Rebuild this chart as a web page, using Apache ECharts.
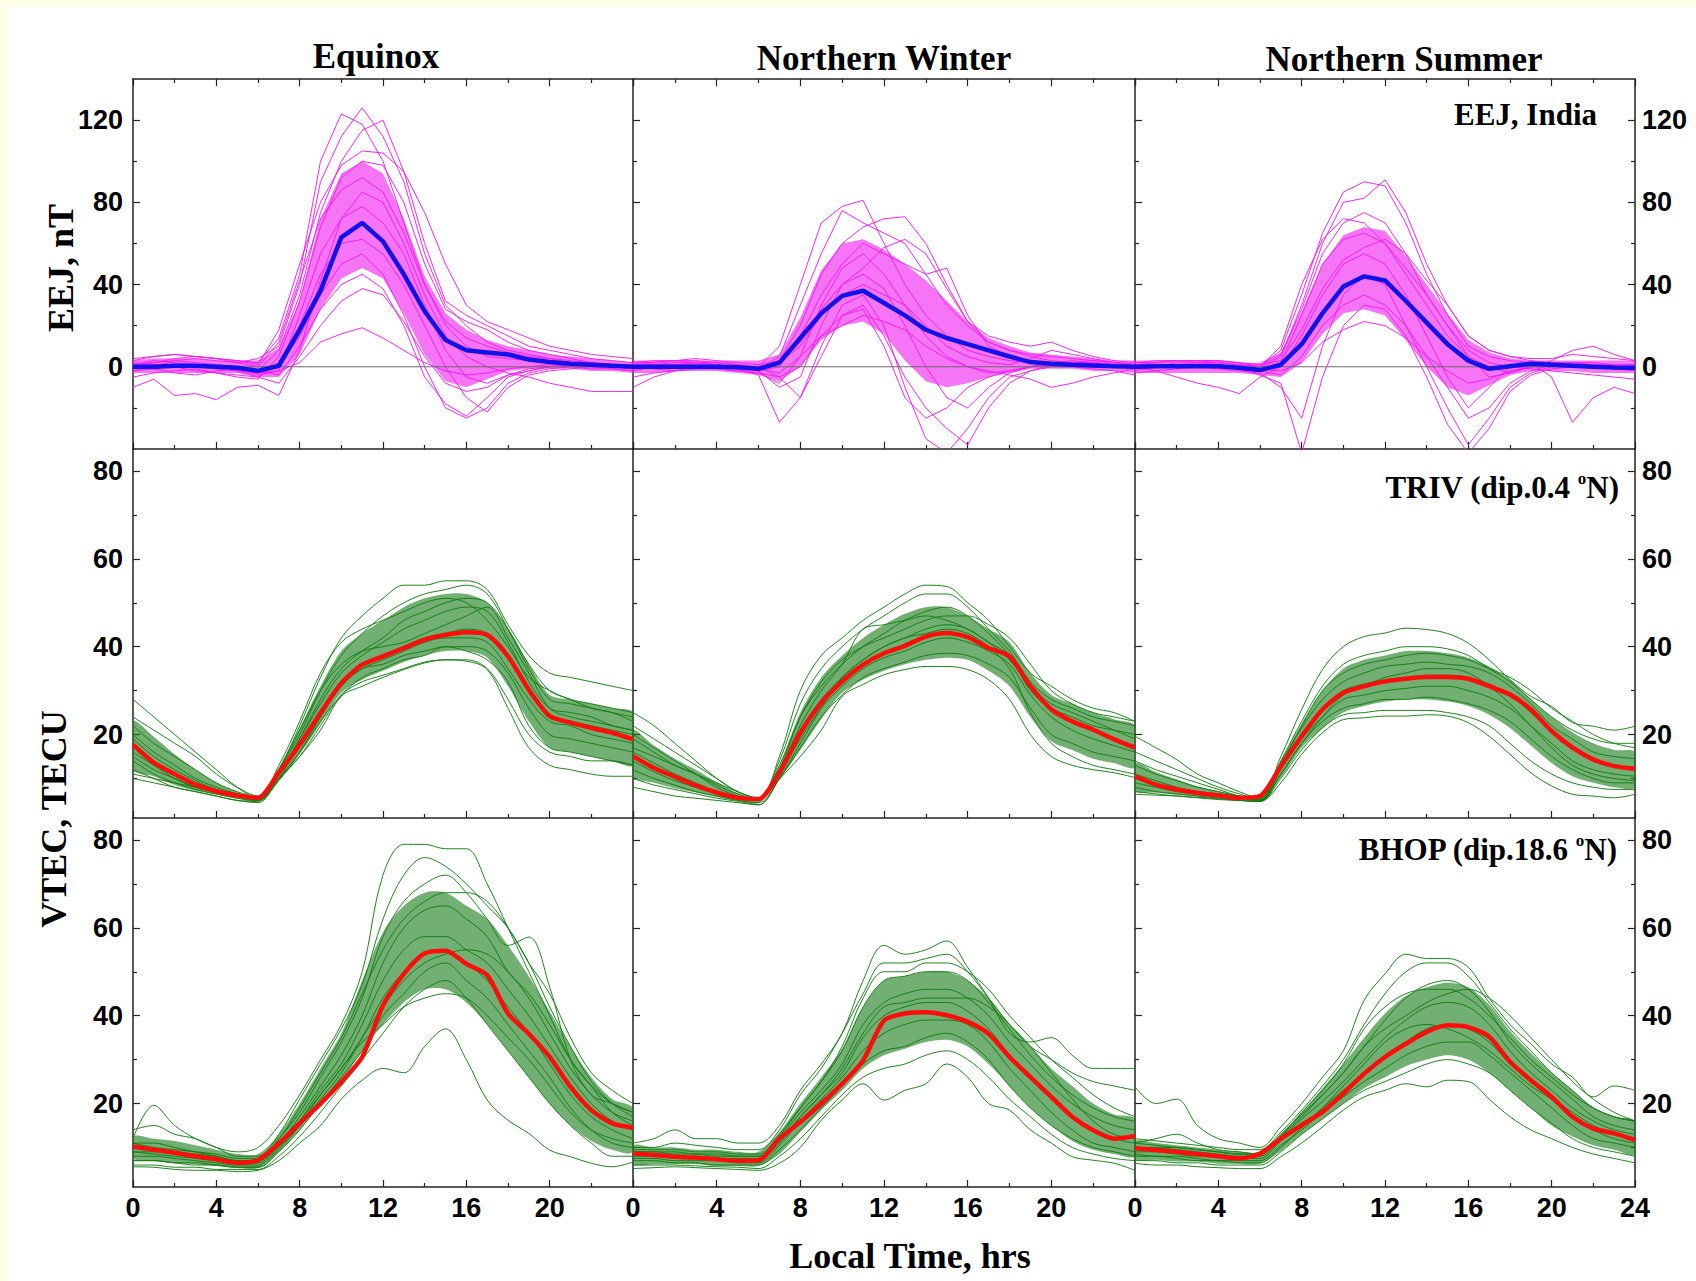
<!DOCTYPE html>
<html>
<head>
<meta charset="utf-8">
<title>EEJ and VTEC diurnal variation</title>
<script src="https://cdn.jsdelivr.net/npm/echarts@6/dist/echarts.min.js"></script>
<style>
  html, body { margin: 0; padding: 0; background: #ffffff; }
  #chart { position: absolute; left: 0; top: 0; width: 1696px; height: 1281px; }
  .edge-top { position: absolute; left: 0; top: 0; width: 1696px; height: 7px; background: #fefee8; }
  .edge-left { position: absolute; left: 0; top: 0; width: 8px; height: 1281px; background: #fefee8; }
</style>
</head>
<body>
<div id="chart"></div>
<div class="edge-top"></div>
<div class="edge-left"></div>
<script>
// ---- Hours of local time (x values shared by every curve) ----
const HOURS = [0,1,2,3,4,5,6,7,8,9,10,11,12,13,14,15,16,17,18,19,20,21,22,23,24];
const SEASONS = ['Equinox', 'Northern Winter', 'Northern Summer'];
const X_LABELS = [0,4,8,12,16,20];
const X_LABELS_LAST = [0,4,8,12,16,20,24];
const EEJ_TICKS = [0,40,80,120];
const EEJ_MINOR = [-20,20,60,100];
const TEC_TICKS = [20,40,60,80];
const TEC_MINOR = [10,30,50,70];

// ---- EEJ, India (nT) : Equinox ----
const EEJ_EQX_MEAN = [0,0,0.5,0.5,0,-0.5,-2,0.5,18,37,63,70,61,45,27,13,8,7,6,3.5,2.3,1.5,1,0.5,0];
const EEJ_EQX_HI = [3,4,4,4,3,3,3,9,32,72,94,100,94,72,44,26,18,13,10,8,6,5,4,3,2];
const EEJ_EQX_LO = [-3,-3,-3,-3,-3,-3,-5,-5,6,28,43,48,43,26,6,-7,-10,-6,-2,-1,-1,-1,-2,-2,-3];
const EEJ_EQX_DAYS = [
  [0,2,4,5,4,3,2,14,45,100,123,118,100,70,40,22,14,10,7,5,4,3,2,1,0],
  [-2,0,3,4,3,2,4,10,40,90,112,126,112,90,55,30,20,12,8,6,4,2,1,0,-1],
  [1,2,3,2,1,0,-2,8,35,75,100,115,120,95,60,32,25,20,15,10,8,6,4,3,2],
  [-5,-3,-2,-1,-3,-5,-6,5,32,68,92,100,98,80,50,28,22,18,12,8,6,4,2,1,0],
  [3,5,6,5,4,2,0,12,42,72,86,92,85,65,40,20,10,5,4,3,2,1,0,-1,-2],
  [-10,-6,-14,-13,-16,-10,-9,-14,8,42,72,85,80,60,35,15,5,0,-3,-5,-8,-10,-12,-12,-12],
  [0,-1,-3,-4,-2,-1,-4,-2,25,55,72,78,70,55,30,8,-5,-8,-4,-2,0,1,2,1,0],
  [2,1,0,-2,-3,-4,-5,2,20,45,60,62,55,40,20,0,-15,-22,-10,-4,-2,-1,0,0,0],
  [1,3,2,1,0,-1,-3,0,15,35,50,55,45,25,0,-20,-25,-20,-8,-3,-1,0,1,1,1],
  [-2,-1,0,1,0,-1,-2,-4,10,28,40,45,38,20,-5,-18,-24,-15,-5,-2,0,0,-1,-1,-2],
  [0,1,1,0,0,-2,-5,-8,5,20,32,38,35,22,5,-8,-12,-10,-4,-1,0,1,1,0,0],
  [1,0,0,0,-1,-2,-3,-2,2,12,16,19,14,8,2,-2,-4,-3,-1,0,1,1,0,0,0],
  [4,5,6,5,4,3,1,18,50,80,98,105,104,95,75,50,30,22,18,14,10,8,6,5,4]
];

// ---- EEJ : Northern Winter ----
const EEJ_WIN_MEAN = [0,0,0,0,0,-0.2,-1,2,14,26,34.5,37,31,25,18,14,11,8,5,2.3,1.5,1,0.6,0.2,0];
const EEJ_WIN_HI = [3,3,3,3,3,3,3,6,24,47,60,62,57,50,42,32,22,14,10,7,6,5,4,3,3];
const EEJ_WIN_LO = [-3,-3,-2,-2,-2,-3,-4,-7,0,13,20,22,16,3,-7,-10,-8,-5,-3,-1,-1,-1,-2,-2,-3];
const EEJ_WIN_DAYS = [
  [0,1,2,2,1,0,0,10,40,70,78,81,60,40,25,15,8,5,3,2,2,1,1,0,0],
  [-2,0,1,2,2,1,-1,5,30,55,76,70,65,60,45,30,20,12,8,5,3,2,1,0,0],
  [1,2,3,4,3,2,1,3,20,45,60,68,72,73,60,40,22,12,8,6,5,4,3,2,1],
  [0,0,1,1,0,-1,-2,0,15,35,50,60,55,50,45,48,25,10,5,3,2,1,0,0,0],
  [-5,-3,-2,-1,-1,-2,-3,-8,5,30,48,55,45,30,15,5,0,-3,-2,0,1,2,2,1,0],
  [2,3,3,2,1,0,-2,-10,-5,20,40,45,38,20,0,-15,-20,-10,-3,0,2,3,2,1,1],
  [-10,-5,-2,0,0,-1,-4,-27,-15,10,30,35,20,-10,-35,-42,-30,-15,-5,-2,0,0,-1,-2,-4],
  [0,1,1,0,-1,-2,-3,-5,0,15,25,28,10,-15,-25,-20,-10,-5,-2,0,1,1,0,0,0],
  [1,1,0,0,0,-1,-1,2,10,25,35,40,35,30,20,10,5,2,1,4,8,6,4,2,1],
  [0,-1,-2,-1,0,0,-1,-3,5,15,20,25,22,18,10,4,0,-2,-4,-6,-10,-8,-5,-3,-1],
  [-1,0,1,1,1,0,0,2,12,28,40,48,58,62,55,38,22,15,12,10,12,8,5,3,2],
  [2,2,3,3,2,1,0,-5,-15,5,25,30,15,-5,-20,-30,-38,-20,-8,-2,1,2,3,2,1]
];

// ---- EEJ : Northern Summer ----
const EEJ_SUM_MEAN = [0,0.2,0.3,0.3,0.3,-0.5,-1.6,1,11,26,39,44,42,32,21.5,11,3,-1,0.3,1.5,1,0.5,0,-0.3,-0.5];
const EEJ_SUM_HI = [3,3,3,3,3,2,2,7,27,50,64,68,66,54,40,26,13,7,4,3,3,3,3,3,3];
const EEJ_SUM_LO = [-3,-3,-3,-3,-3,-3,-4,-5,2,16,26,28,25,13,0,-10,-14,-9,-4,-2,-2,-2,-3,-3,-3];
const EEJ_SUM_DAYS = [
  [1,2,3,3,2,1,0,8,35,65,85,90,88,70,45,25,10,5,3,2,2,1,1,0,0],
  [0,1,1,1,0,0,-1,5,30,60,80,82,91,75,50,30,15,8,5,3,2,2,1,1,1],
  [-2,0,2,3,3,2,0,10,40,62,72,70,60,45,30,15,5,0,-3,0,3,8,10,6,3],
  [2,3,3,2,1,0,-2,2,25,50,62,65,60,48,35,20,5,-5,-3,0,1,1,0,-1,-1],
  [0,-2,-5,-8,-10,-13,-5,0,15,35,50,55,50,35,15,-5,-20,-10,0,2,-5,-27,-15,-10,-13],
  [1,1,0,0,-1,-2,-3,-10,-25,10,35,45,40,20,0,-20,-38,-25,-10,-3,0,1,1,0,0],
  [-3,-2,-1,0,0,-1,-4,-8,-42,-5,20,30,28,15,-5,-28,-42,-30,-12,-4,-1,0,0,-1,-2],
  [1,1,1,1,1,0,-2,-4,5,20,30,35,30,20,5,-10,-25,-20,-8,-2,1,2,2,1,1],
  [0,0,0,1,0,-1,-1,-2,2,12,18,22,20,14,5,-2,-8,-6,-2,0,0,0,0,0,0],
  [2,2,3,3,3,2,1,3,18,38,52,58,62,55,42,30,15,8,5,4,4,6,5,4,3],
  [-1,0,1,2,2,1,0,6,28,55,70,75,70,55,35,20,8,2,0,-1,-2,-3,-4,-5,-6]
];

// ---- VTEC at TRIV (TECU) ----
const TRIV_EQX_MEAN = [17.7,13.6,11,8.6,7.1,6.1,5.6,11.3,17.7,24.9,31.7,35.9,37.8,39.7,41.6,42.7,43.3,42.7,37.8,30.2,24.2,22.7,21.5,20.4,18.9];
const TRIV_EQX_HI = [23,19.5,15.5,12,9,7,5.8,12.5,21.5,31,39,43,46,49,51,52,52,50,44,36,29,28,27,26,25];
const TRIV_EQX_LO = [12,10.5,8.5,7.2,6.3,5.4,4.8,10,15.5,22.5,29.5,32.5,34.5,36.5,38,39,39,37.5,31,23,17,16,15,14,13];
const TRIV_EQX_DAYS = [
  [28,24,20,16,12,8,5.5,12,22,33,42,47,51,54,54,55,55,53,45,38,34,33,32,31,30],
  [24,21,18,15,11,8,6,12,20,30,38,43,47,50,52,53,54,52,44,35,28,27,26,25,24],
  [20,16,13,10,8,6.5,5.5,11,19,27,34,38,41,44,46,48,49,48,41,32,26,25,24,22,21],
  [18,14,11,9,7.5,6,5.2,10,18,25,32,36,38,40,42,43,44,43,38,30,24,23,22,21,20],
  [16,13,10,8,7,6,5.3,11,17,24,31,35,37,39,41,42,42,41,35,28,23,22,20,19,18],
  [14,11,9,7.5,6.5,5.5,5,10,16,23,29,33,35,37,38,40,40,39,34,26,20,19,18,17,16],
  [12,10,8,7,6,5,4.5,9.8,15,22,29,32,33.5,35,36.5,37,37,35,28,20,16,15,14,14,13],
  [10,9,8,7,6,5,4.8,10,15,21,28.7,31,33,34.8,36.3,37,36.7,34.8,26,17,13,12,11,10.5,10.5],
  [22,18,15,12,9,7,5.8,13,23,34,41,44,46,48,50,51,50,46,40,33,30,28,27,26,25],
  [15,12,10,8,7,6,5.5,12,21,30,36,39,40,41,43,45,47,49,42,34,26,24,23,22,21],
  [19,15,12,9.5,7.5,6.5,5.2,11,19,28,35,39,42,46,48,50,51,50,44,36,30,28,26,25,23],
  [11,10,9,8,7,6,5,9.5,16,24,31,35,36,38,39,40,39,37,32,22,17,16,15,14,13]
];
const TRIV_WIN_MEAN = [15.1,12.4,10.4,8.4,6.8,5.6,5.3,11.3,20.4,27.2,32.1,35.9,38.5,40.2,42.3,43.1,42.2,39.7,37.8,31,25.7,23,21.1,18.9,17];
const TRIV_WIN_HI = [21,17.5,14.5,12,9.2,6.7,5.6,13,25,33,38,42,45,47.5,49,49,47,44,41,34,29,27,25,23.5,22];
const TRIV_WIN_LO = [10.5,9,7.8,6.8,5.8,4.9,4.4,9.8,16.5,23.5,29.5,32.5,34.5,36,37,37.5,37,34.5,31,24,18.5,16.5,14.5,13.5,12.5];
const TRIV_WIN_DAYS = [
  [25,22,18,14,10,7,5.5,15,30,38,42,46,49,52,54,53.7,50,46,40,34,31,28,26,25,23],
  [22,19,16,13,10,7,5.5,14,27,35,40,44,47,50,52,52,49,44,39,32,28,26,24,23,22],
  [19,16,13,11,8.5,6.5,5.2,12,24,31,36,40,43,46,48,49,47,43,38,30,26,24,22,21,20],
  [16,13.5,11,9,7,5.8,5.2,11.5,21,28,33,37,40,42,44,45,44,41,38,31,26,23,21,19,17],
  [14,11.5,9.5,8,6.5,5.5,5,11,19,26,31,35,37.5,39,41,42,41,39,36,29,24,21,19,17.5,16],
  [12,10,8.5,7,6,5,4.5,10,17,24,29,33,35,36.5,38,38.5,38,36,33,26,20,18,16,15,14],
  [10,8.5,7.5,6.5,5.5,4.8,4,9.8,15,21,28.7,31.4,33.6,34.8,35.5,35.5,34.8,32.5,28,20,15,13,12,11.3,10.2],
  [20,17,14,11,8,6,5,13,24,32,37,40,42,44,46,47,47,45,42,36,30,27,25,24,23],
  [8,7,6,5.5,5,4.5,4,10,18,26,33,37,40,42,43,44,43,40,35,25,18,15,13,12,11],
  [17,15,13,11,9,7,5.5,12,22,30,36,44,45,46,47,46,44,41,37,31,27,25,23,21,19]
];
const TRIV_SUM_MEAN = [10.5,8.6,7.5,6.7,6.1,5.6,6,12.8,19.6,25.7,29.5,31,32.1,32.7,33.1,33.1,32.7,31,29.1,25.7,20.8,17,14.3,12.8,12.2];
const TRIV_SUM_HI = [13.5,11.5,9.8,8.2,7.1,6.1,5.4,14,22.5,30,35,37,38,39,39,38.5,37.5,35.5,32.5,28,24,20.5,18,16.5,16];
const TRIV_SUM_LO = [7.2,6.8,6.3,5.9,5.5,5.1,4.8,10.2,17,21.5,25,26.5,27.5,28,28,27.5,26.5,24.5,21.5,17.5,13.5,10.5,9,8,8];
const TRIV_SUM_DAYS = [
  [19.6,17,14.3,11,9,7,5.5,15,25.7,34.8,40,42.3,43.1,44.2,43.9,43,40.8,37,32.5,28.7,26.4,22.7,21.9,21,21.9],
  [16,14,12,10,8,6.5,5.3,14,23,31,36,38,39,40,40,39.5,38,35,32,28,24,21,19,18,18],
  [13,11,9.5,8,7,6,5.2,13.5,21.5,28,32,34,35.5,36,36.5,36,35.5,34,31,27,22,19,16,15,14.5],
  [11,9.5,8,7,6.5,5.8,5,12.5,20,26,30,31.5,32.5,33,33.5,33.5,33,31.5,29,25,21,17,14.5,13,12.5],
  [9,8,7,6.5,6,5.5,4.9,12,19,24,28,29,30,30.5,31,31,30,28.5,26,22,18,14,12,11,10.5],
  [8,7,6.5,6,5.5,5,4.8,11,18,23,26,27,28,28,28.5,28,27,25.5,23,19,15,12,10,9,9],
  [7,6.5,6,5.7,5.4,5,4.8,10,16.5,21.5,24.5,25,25.5,25.5,25.5,25,24,22,18,14,11,9,8,7.5,7.5],
  [6.4,6.2,6,5.6,5.2,5,4.8,9,15.5,20.4,23.4,23.8,24.2,24.2,24.5,24.2,22.7,19.6,15.5,11.3,8.3,6.4,6,5.6,6.4],
  [14,12,10.5,9,7.5,6,5.2,13,22,30,34,36,37,38,38.5,38,37,35,33,30,26,23,20,18,17],
  [10,8.5,7.5,7,6.5,6,5,11,18,24,29,31,33,34,35,35,34,31,27,22,17,13,11,10,9.5]
];

// ---- VTEC at BHOP (TECU) ----
const BHOP_EQX_MEAN = [10.2,9.5,8.8,8,7.3,6.5,7.1,10.9,15.5,20,24.9,30.6,42.3,49.5,54.2,54.8,51.8,49.2,40.5,35.9,30.6,23.8,18.5,15.5,14.5];
const BHOP_EQX_HI = [12.5,12,11.5,10.5,9.5,8.5,8.5,13,20,28,36,48,59,65,68,68,65,62,56,49,41,33,26,21,19];
const BHOP_EQX_LO = [7.5,7,6.5,6.2,5.8,5.3,5.3,9,14,20,25,32,38,43,46,46,43,38,32,26,20,15,11.5,9.5,9];
const BHOP_EQX_DAYS = [
  [14,15,13,12,10,9,10,15,22,30,38,50,72,79,79,78,78,70,60,50,40,30,24,20,18],
  [12,19.6,15,12,10,8,8,13,21,29,37,47,62,72,76,74,70,65,60,52,45,35,27,23,20],
  [11,11,10,9,8,7,7,12,18,26,34,44,58,66,70,72,68,62,56,57.9,46.5,30,22,20,18],
  [10,9.5,9,8.5,8,7,7,11,17,24,31,40,52,60,64,65,62,58,50,45,38,30,24,18,15],
  [9,8.5,8,7.5,7,6.5,6.5,10.5,16,23,29,38,48,55,58,58,55,52,46,40,33,26,20,16,14],
  [8,8,7.5,7,6.5,6,6,10,15,21,27,35,44,50,54,55,52,48,42,36,29,22,17,14,12],
  [7,7,6.5,6.5,6,5.5,5.5,9,14,20,26,32,40,45,50,52,48,44,38,32,26,19,14,11,10],
  [6,6,5.5,5.5,5,5,5,8,12.5,18,24,30,36,42,46,48,44,38,32,26,20,15,11,8,8],
  [5.6,5.5,5,4.8,4.8,4.5,4.8,7,11,15,21,25.3,28,27,33,37,30,20.8,16.2,13.2,9.4,7.9,6.4,5.6,6.7],
  [9,9,8.5,8,7.5,7,7,10.5,16,22,28,35,42,48,52,54,55,54,50,44,36,28,22,18,16],
  [11,10,9.5,9,8.5,7.5,7.5,12,19,27,35,45,55,62,66,68,68,66,60,52,42,33,25,20,17],
  [7,7,6.5,6,6,5.5,5.5,9.5,15,22,28,34,38,42,44,45,44,40,35,30,24,18,14,12,11]
];
const BHOP_WIN_MEAN = [8.6,8.3,7.9,7.7,7.3,7,7.1,12,15.8,20,24.5,29.8,38.9,40.5,40.8,40.1,38.6,35.9,30.6,26,21.5,17,13.9,12,12.6];
const BHOP_WIN_HI = [10.5,10,10,9.5,9.5,9,9,13.5,20,26,32.5,42,48,49,50,50,48,44,38,33,28,24,20,17.5,16.5];
const BHOP_WIN_LO = [6.2,6.2,6.2,6.2,5.8,5.8,5.8,8.5,13.5,18.5,23,28,31,32.5,34,34.5,33,29,24,19,15,11.5,9.5,8.5,8];
const BHOP_WIN_DAYS = [
  [11,12,14,12,12,11,11,15,23,29,36,48,56,54,55,57,51,44,36,34,35,31,28,28,28],
  [10,10,11,10.5,10,9.5,9.5,14,22,28,36,45,52,52,53,54,50,44,38,33,30,27,25,24,23],
  [9.5,9.5,9.5,9,9,8.5,8.5,13,19,25,32,42,48,49,50,50,48,43,37,31,26,22,19,17,16],
  [9,9,8.5,8.5,8,8,8,12,18,23,29,38,43,45,46,46,44,40,34,29,24,20,17,15,14],
  [8,8,8,7.5,7.5,7,7,11.5,17,22,27,35,40,42,43,43,41,37,31,26,21,17,14,12,11],
  [7.5,7.5,7,7,7,6.5,6.5,10.5,16,21,26,32,36,38,39,39,38,34,28,23,18,14,11,10,9],
  [7,7,6.5,6.5,6,6,6,9.5,14,19,24,29,32,33,35,36,34,30,24,19,15,12,10,9,8],
  [6,6,6,5.8,5.6,5.5,5.2,8,12,17,22,26,28,29,31,32,30,26,21,17,13,10,8.5,7.5,7],
  [5.2,5.4,5.6,5.4,5.2,5,4.8,6.4,10,16.2,20.8,24.5,20.8,23,24.5,29,26,20,18.5,14,11,7.9,7.1,6.4,4.8],
  [9,9,9,8.5,8.5,8,8,12.5,19,25,33,44,50,50,52,52,50,46,40,35,30,26,22,19,17],
  [8.5,8.5,8,8,7.5,7.5,7.5,11,17,22,28,36,42,43,44,44,44,42,38,33,27,21,16,13,12]
];
const BHOP_SUM_MEAN = [9.8,9.4,9,8.5,8,7.5,8.6,12,15.1,18.1,22.3,26.8,30.6,33.6,36.3,37.8,37.4,35.2,29.5,25.3,21.5,17,14.3,13.2,11.7];
const BHOP_SUM_HI = [11.5,11,10.5,10,9.5,9,9,13,18,23.5,29,35,40.5,44.5,46.5,47.5,46.5,42.5,36.5,31.5,27,23,19,17,16];
const BHOP_SUM_LO = [7.2,7.2,6.8,6.8,6.3,6.3,6.3,9.2,13,16.5,20,23.5,26,28.5,30,31,30,27,23,19,15,12.5,10.5,9.5,8.5];
const BHOP_SUM_DAYS = [
  [23.8,20,21,15,12,11,10,14.7,20,26,32,43.5,49.5,54,53,53,51,44,38,33.6,29,26,21.5,24,23],
  [12,11.5,11,10.5,10,9.5,9.5,13.5,18.5,24,30,38,45,50,52,52,49,43,37,32,27,23,19,17,16],
  [11,10.5,10,9.5,9,8.5,8.5,13,17.5,22,27,33,39,44,47,48,46,41,34,29,25,21,17,15,14],
  [10,10,9.5,9,8.5,8,8,12,16.5,20.5,25,30,35,39,42,43,42,38,32,27,23,19,16,14,13],
  [9,9,8.5,8,8,7.5,7.5,11.5,15,19,23,27,31,34,37,38,37,34,29,25,21,17,14,12,11],
  [8.5,8,8,7.5,7,7,7,10.5,14,18,21.5,25,28,31,33,34,34,31,27,23,19,15,12,11,10],
  [7,7,6.5,6.5,6,6,6,9,13,16.5,20,23,25,27,29,30,29,27,23,19,15.5,12,10,9,8],
  [6.4,6,6,5.6,5.4,5.2,5.2,7.9,11,14.7,18.5,21.5,23,24.5,23.8,25.3,25,21,17,14,12,10,8.5,7.5,6.5],
  [10,10,10,9.5,9,8.5,8.5,12.5,17,22,27,33,37,40,43,45,46,44,40,35,30,25,21,18,16],
  [8,8,7.5,7,7,6.5,6.5,10,14.5,19,24,29,34,37,38,37,35,32,28,24,21,18,15,13,12],
  [11,12,13,11,9.5,9,8.5,12.5,18,23,29,37,42,45,46,46,44,40,35,30,26,22,19,17,16]
];

// ---- panel layout (pixels) ----
const COL_LEFT = [133, 633, 1135];
const COL_WIDTH = [500, 502, 500];
const ROW_TOP = [79, 449, 818];
const ROW_HEIGHT = [370, 369, 369];

const SERIF = '"Liberation Serif", "Times New Roman", Times, serif';
const SANS = '"Liberation Sans", Arial, Helvetica, sans-serif';
const AXIS_COLOR = '#232323';

const STYLE = {
  eej: { min: -40, max: 140, ticks: EEJ_TICKS, minor: EEJ_MINOR,
         day: '#f01cf0', band: '#f020f0', bandOpacity: 0.62, mean: '#1212e8', smooth: false },
  tec: { min: 1, max: 85, ticks: TEC_TICKS, minor: TEC_MINOR,
         day: '#137d13', band: '#1c7e1c', bandOpacity: 0.62, mean: '#ff0d0d', smooth: 0.35 }
};

const PANELS = [
  { row: 0, col: 0, kind: 'eej', mean: EEJ_EQX_MEAN, hi: EEJ_EQX_HI, lo: EEJ_EQX_LO, days: EEJ_EQX_DAYS },
  { row: 0, col: 1, kind: 'eej', mean: EEJ_WIN_MEAN, hi: EEJ_WIN_HI, lo: EEJ_WIN_LO, days: EEJ_WIN_DAYS },
  { row: 0, col: 2, kind: 'eej', mean: EEJ_SUM_MEAN, hi: EEJ_SUM_HI, lo: EEJ_SUM_LO, days: EEJ_SUM_DAYS },
  { row: 1, col: 0, kind: 'tec', mean: TRIV_EQX_MEAN, hi: TRIV_EQX_HI, lo: TRIV_EQX_LO, days: TRIV_EQX_DAYS },
  { row: 1, col: 1, kind: 'tec', mean: TRIV_WIN_MEAN, hi: TRIV_WIN_HI, lo: TRIV_WIN_LO, days: TRIV_WIN_DAYS },
  { row: 1, col: 2, kind: 'tec', mean: TRIV_SUM_MEAN, hi: TRIV_SUM_HI, lo: TRIV_SUM_LO, days: TRIV_SUM_DAYS },
  { row: 2, col: 0, kind: 'tec', mean: BHOP_EQX_MEAN, hi: BHOP_EQX_HI, lo: BHOP_EQX_LO, days: BHOP_EQX_DAYS },
  { row: 2, col: 1, kind: 'tec', mean: BHOP_WIN_MEAN, hi: BHOP_WIN_HI, lo: BHOP_WIN_LO, days: BHOP_WIN_DAYS },
  { row: 2, col: 2, kind: 'tec', mean: BHOP_SUM_MEAN, hi: BHOP_SUM_HI, lo: BHOP_SUM_LO, days: BHOP_SUM_DAYS }
];

const tickLabelStyle = { color: '#000', fontFamily: SANS, fontWeight: 'bold', fontSize: 27 };
const lineOf = (w) => ({ color: AXIS_COLOR, width: w });
const pairs = (arr) => HOURS.map((h, k) => [h, arr[k]]);

const grids = [], xAxes = [], yAxes = [], series = [];

function xAxisFor(g, position, labels) {
  return {
    gridIndex: g, type: 'value', min: 0, max: 24, interval: 4, position: position,
    axisLine: { show: true, onZero: false, lineStyle: lineOf(1.5) },
    axisTick: { show: true, inside: true, length: 7, lineStyle: lineOf(1.2) },
    minorTick: { show: true, splitNumber: 2, length: 4, lineStyle: lineOf(1.2) },
    splitLine: { show: false }, minorSplitLine: { show: false },
    axisLabel: labels ? Object.assign({ show: true, margin: 7, customValues: labels }, tickLabelStyle) : { show: false }
  };
}

function yAxisFor(g, position, st, minor, withLabels, margin) {
  return {
    gridIndex: g, type: 'value', min: st.min, max: st.max, position: position,
    axisLine: { show: !minor, onZero: false, lineStyle: lineOf(1.5) },
    axisTick: { show: true, inside: true, length: minor ? 4 : 7,
                customValues: minor ? st.minor : st.ticks, lineStyle: lineOf(1.2) },
    splitLine: { show: false },
    axisLabel: withLabels ? Object.assign({ show: true, margin: margin, customValues: st.ticks }, tickLabelStyle) : { show: false }
  };
}

// filled band between the lower and upper edges of the dense core of daily curves
function bandRenderer(p, st) {
  return function (params, api) {
    const upper = HOURS.map((h, k) => api.coord([h, p.hi[k]]));
    const lower = HOURS.map((h, k) => api.coord([h, p.lo[k]])).reverse();
    return {
      type: 'polygon',
      shape: { points: upper.concat(lower), smooth: st.smooth ? 0.3 : 0 },
      style: { fill: st.band, opacity: st.bandOpacity }
    };
  };
}

PANELS.forEach((p, g) => {
  const st = STYLE[p.kind];
  grids.push({ left: COL_LEFT[p.col], width: COL_WIDTH[p.col], top: ROW_TOP[p.row], height: ROW_HEIGHT[p.row] });

  const xi = xAxes.length;
  const labels = p.row === 2 ? (p.col === 2 ? X_LABELS_LAST : X_LABELS) : null;
  xAxes.push(xAxisFor(g, 'bottom', labels));
  if (p.row === 0) xAxes.push(xAxisFor(g, 'top', null));

  const yi = yAxes.length;
  yAxes.push(yAxisFor(g, 'left', st, false, p.col === 0, 10));
  yAxes.push(yAxisFor(g, 'left', st, true, false, 0));
  if (p.col === 2) {
    yAxes.push(yAxisFor(g, 'right', st, false, true, 7));
    yAxes.push(yAxisFor(g, 'right', st, true, false, 0));
  }

  const common = { xAxisIndex: xi, yAxisIndex: yi, silent: true, animation: false };

  series.push(Object.assign({}, common, {
    type: 'custom', name: 'core-' + g, data: [[12, 0]], clip: true,
    renderItem: bandRenderer(p, st), z: 1
  }));

  // individual days
  p.days.forEach((d, j) => {
    series.push(Object.assign({}, common, {
      type: 'line', name: 'day-' + g + '-' + j, data: pairs(d), smooth: st.smooth, symbol: 'none',
      lineStyle: { color: st.day, width: 1, opacity: 0.95 }, z: 2
    }));
  });

  // zero reference for the EEJ panels
  if (p.kind === 'eej') {
    series.push(Object.assign({}, common, {
      type: 'line', name: 'zero-' + g, data: [[0, 0], [24, 0]], symbol: 'none',
      lineStyle: { color: '#6a6a6a', width: 1 }, z: 3
    }));
  }

  // seasonal mean
  series.push(Object.assign({}, common, {
    type: 'line', name: 'mean-' + g, data: pairs(p.mean), smooth: st.smooth ? 0.25 : false, symbol: 'none',
    lineStyle: { color: st.mean, width: 4.5 }, z: 4
  }));
});

function label(x, y, text, size, align, extra) {
  return Object.assign({
    type: 'text', x: x, y: y, silent: true, z: 10,
    style: {
      text: text, fill: '#000', font: 'bold ' + size + 'px ' + SERIF,
      textAlign: align, textVerticalAlign: 'middle', align: align, verticalAlign: 'middle'
    }
  }, extra || {});
}

function dipLabel(x, y, station, dip) {
  const tokenStyle = { fontFamily: SERIF, fontWeight: 'bold', fontSize: 31, fill: '#000', lineHeight: 34 };
  return {
    type: 'text', x: x, y: y, silent: true, z: 10,
    style: {
      text: '{a|' + station + ' (dip.' + dip + ' }{s|o}{a|N)}',
      textAlign: 'right', textVerticalAlign: 'middle', align: 'right', verticalAlign: 'middle',
      rich: {
        a: tokenStyle,
        s: { fontFamily: SERIF, fontWeight: 'bold', fontSize: 17, fill: '#000', verticalAlign: 'top' }
      }
    }
  };
}

const graphics = [
  label(376, 56, SEASONS[0], 35, 'center'),
  label(884, 58, SEASONS[1], 35, 'center'),
  label(1404, 59, SEASONS[2], 35, 'center'),
  label(1597, 114, 'EEJ, India', 31, 'right'),
  dipLabel(1619, 487, 'TRIV', '0.4'),
  dipLabel(1617, 849, 'BHOP', '18.6'),
  label(910, 1256, 'Local Time, hrs', 36, 'center'),
  label(61, 268, 'EEJ, nT', 36, 'center', { rotation: Math.PI / 2 }),
  label(54, 819, 'VTEC, TECU', 36, 'center', { rotation: Math.PI / 2 })
];

const chart = echarts.init(document.getElementById('chart'), null, { renderer: 'svg', width: 1696, height: 1281 });
chart.setOption({
  backgroundColor: '#ffffff',
  animation: false,
  grid: grids,
  xAxis: xAxes,
  yAxis: yAxes,
  series: series,
  graphic: graphics
});
</script>
</body>
</html>
